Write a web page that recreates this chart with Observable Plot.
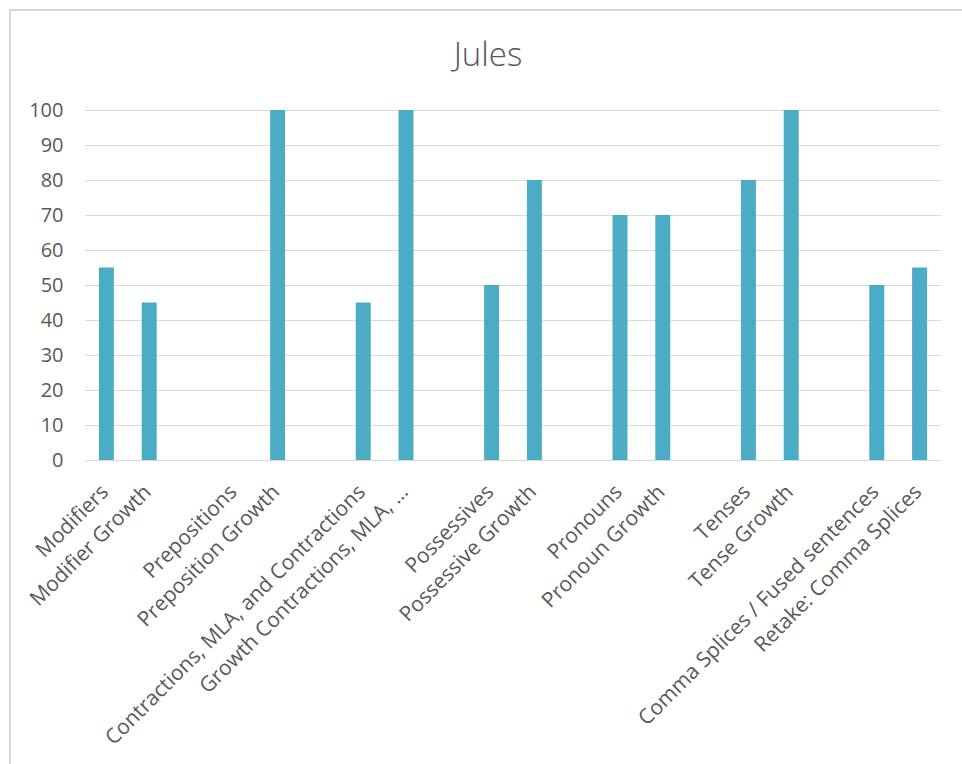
<!DOCTYPE html>
<html>
<head>
<meta charset="utf-8">
<script src="https://cdn.jsdelivr.net/npm/d3@7"></script>
<script src="https://cdn.jsdelivr.net/npm/@observablehq/plot@0.6"></script>
<style>
  html, body { margin: 0; padding: 0; background: #fff; }
  #wrap { position: relative; width: 962px; height: 764px; overflow: hidden; }
  #frame { position: absolute; left: 9px; top: 9px; width: 990px; height: 790px;
           border-top: 2px solid #d9d9d9; border-left: 2px solid #d9d9d9; box-sizing: border-box; }
  #title { position: absolute; left: 0; width: 976px; top: 31px; text-align: center;
           font-family: "Open Sans", sans-serif; font-weight: 300; font-size: 33px; color: #595959; }
  #chart { position: absolute; left: 0; top: 0; }
</style>
</head>
<body>
<div id="wrap">
  <div id="frame"></div>
  <div id="title">Jules</div>
  <div id="chart"></div>
</div>
<script>
const titleText = "Jules";
const categories = [
  "Modifiers", "Modifier Growth", "",
  "Prepositions", "Preposition Growth", "",
  "Contractions, MLA, and Contractions", "Growth Contractions, MLA, …", "",
  "Possessives", "Possessive Growth", "",
  "Pronouns", "Pronoun Growth", "",
  "Tenses", "Tense Growth", "",
  "Comma Splices / Fused sentences", "Retake: Comma Splices"
];
const values = [55, 45, null, 0, 100, null, 45, 100, null, 50, 80, null, 70, 70, null, 80, 100, null, 50, 55];
const yTicks = [0, 10, 20, 30, 40, 50, 60, 70, 80, 90, 100];

document.getElementById("title").textContent = titleText;

const data = categories.map((c, i) => ({i, c, v: values[i]}));

const chart = Plot.plot({
  width: 962,
  height: 764,
  marginLeft: 85,
  marginRight: 21,
  marginTop: 110,
  marginBottom: 304,
  style: {background: "transparent", overflow: "visible"},
  x: {type: "band", domain: d3.range(categories.length), paddingInner: 0.65, paddingOuter: 0.325, round: false, label: null},
  y: {domain: [0, 100], label: null},
  marks: [
    Plot.gridY(yTicks, {stroke: "#d9d9d9", strokeOpacity: 1, strokeWidth: 1}),
    Plot.barY(data.filter(d => d.v != null), {x: "i", y: "v", fill: "#4bacc6"}),
    Plot.axisY(yTicks, {tickSize: 0, tickPadding: 22, fontSize: 20, fill: "#595959",
      fontFamily: "Open Sans, sans-serif", label: null}),
    Plot.axisX({tickSize: 0, tickPadding: 28, dx: -2, tickRotate: -45, fontSize: 21, fill: "#595959",
      fontFamily: "Open Sans, sans-serif", tickFormat: i => categories[i], label: null})
  ]
});
document.getElementById("chart").appendChild(chart);
</script>
</body>
</html>
